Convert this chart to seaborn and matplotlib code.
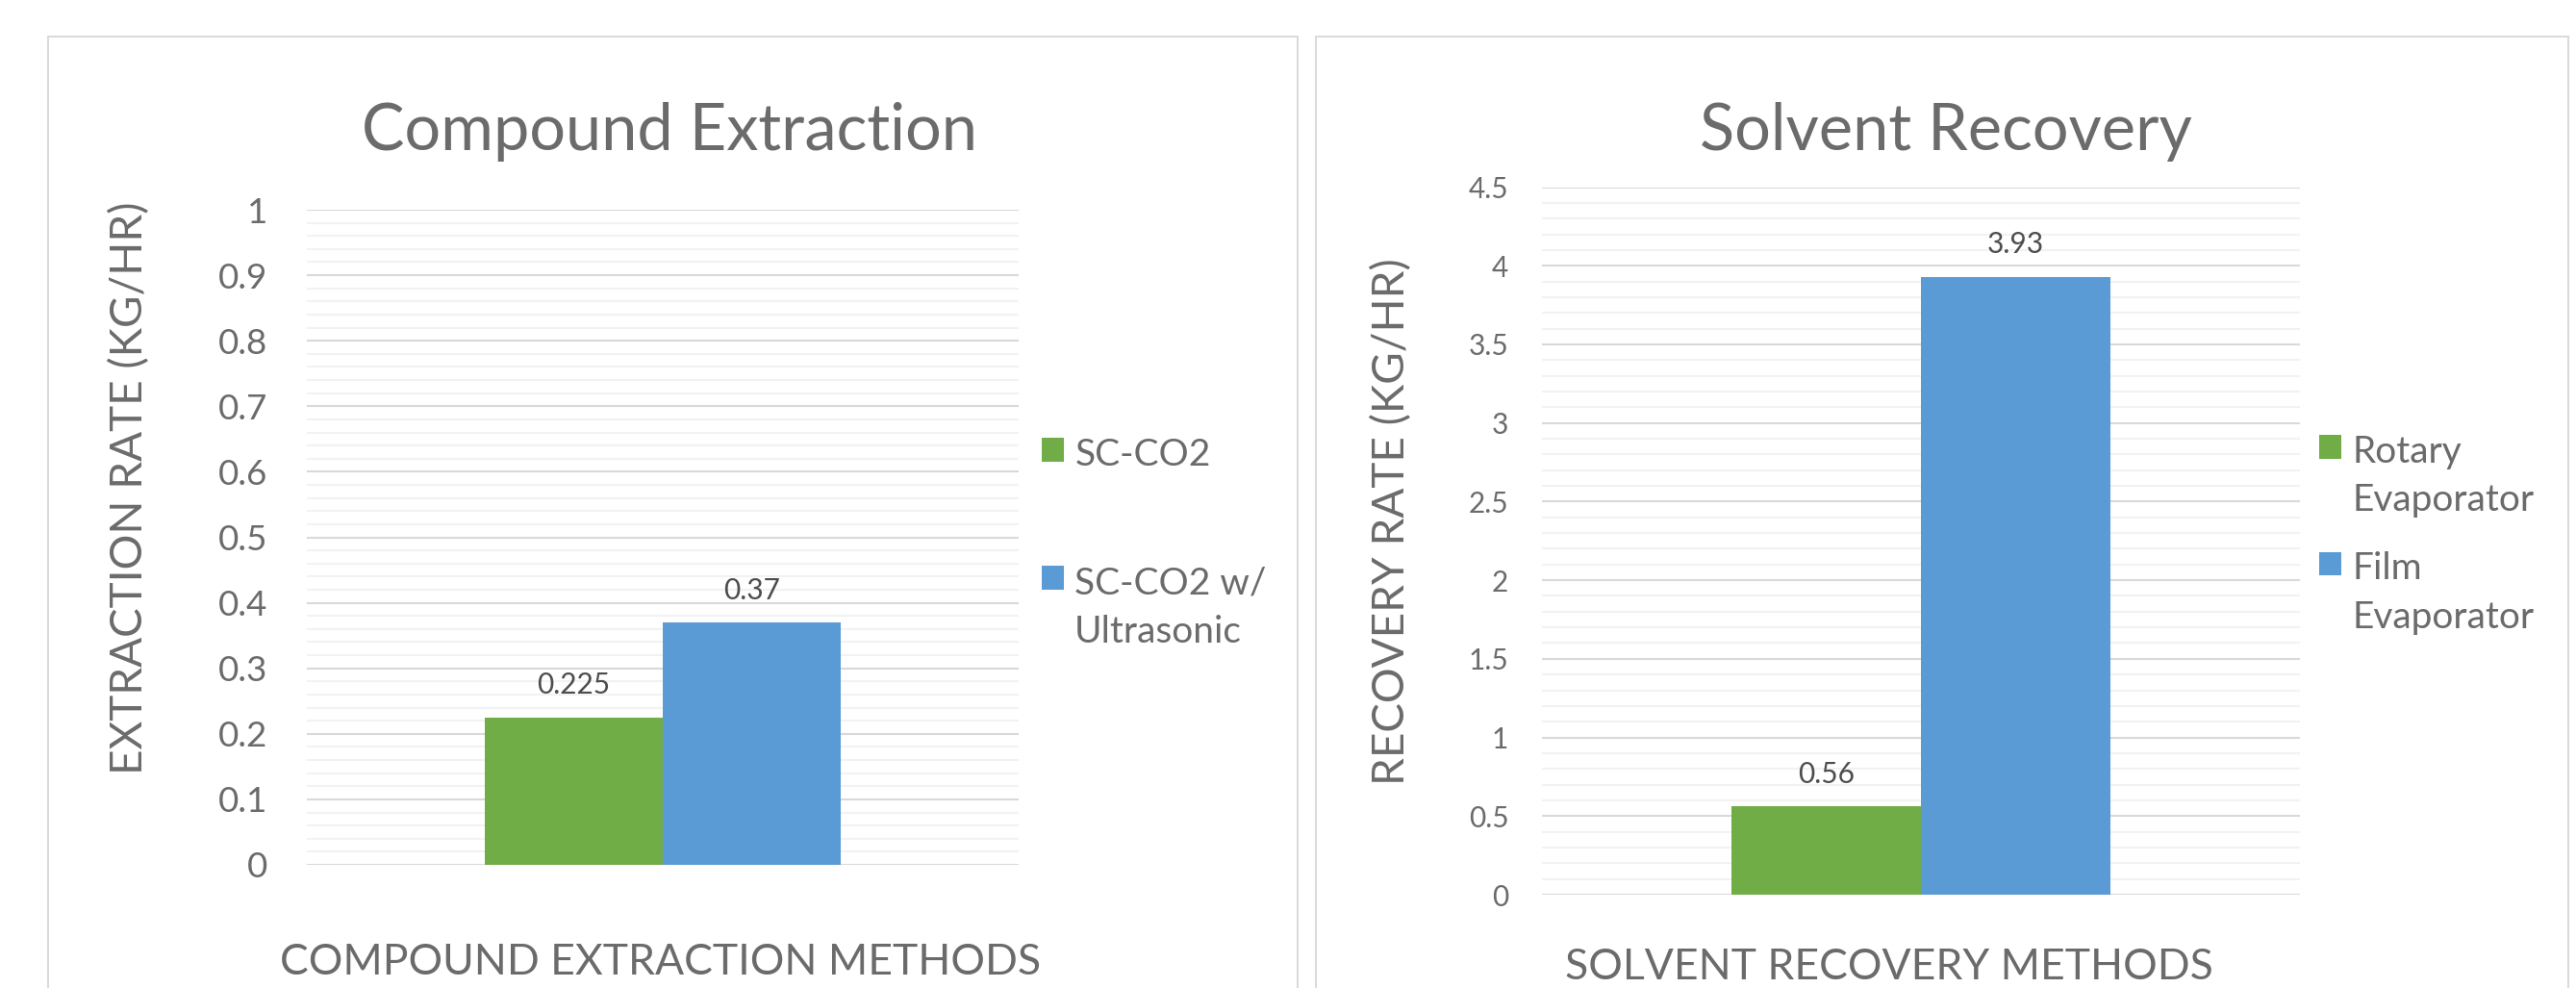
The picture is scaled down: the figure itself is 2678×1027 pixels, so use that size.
import matplotlib
matplotlib.use("Agg")
import matplotlib.pyplot as plt
from matplotlib.patches import Rectangle
from matplotlib.ticker import MultipleLocator, FuncFormatter
import seaborn as sns
import pandas as pd

# ---- data -------------------------------------------------------------
extraction_methods = ["SC-CO2", "SC-CO2 w/\nUltrasonic"]
extraction_rates = [0.225, 0.37]

recovery_methods = ["Rotary\nEvaporator", "Film\nEvaporator"]
recovery_rates = [0.56, 3.93]

bar_colors = ["#70AD47", "#5B9BD5"]

# ---- style ------------------------------------------------------------
sns.set_theme(style="white")
plt.rcParams["font.family"] = ["Lato", "DejaVu Sans"]

TEXT = "#6B6B6B"
LABEL = "#4D4D4D"
MAJOR = "#D9D9D9"
MINOR = "#F2F2F2"

W, H = 2678, 1027
fig = plt.figure(figsize=(W / 100, H / 100), dpi=100)
fig.patch.set_facecolor("white")


def px_rect(x0, y0, x1, y1):
    """Figure-fraction box from pixel edges (y measured from the top)."""
    return [x0 / W, 1 - y1 / H, (x1 - x0) / W, (y1 - y0) / H]


# chart-area frames
for x0, x1 in [(50, 1349), (1368, 2670)]:
    fig.add_artist(Rectangle((x0 / W, -0.1), (x1 - x0) / W, 1.1 - 38 / H,
                             transform=fig.transFigure, fill=False,
                             edgecolor="#D9D9D9", linewidth=1.4, zorder=0))


def draw_panel(rect, methods, rates, ymax, major, minor, tick_size, tick_pad,
               title, title_x, ylabel, ylabel_xy, xlabel, xlabel_xy,
               legend_xy, label_spacing):
    ax = fig.add_axes(rect)
    df = pd.DataFrame({"group": [""] * len(methods),
                       "method": methods, "rate": rates})
    sns.barplot(data=df, x="group", y="rate", hue="method",
                hue_order=methods, palette=bar_colors, width=0.5, gap=0,
                saturation=1, linewidth=0, edgecolor="none", ax=ax, zorder=3)
    ax.set_xlim(-0.5, 0.5)
    ax.set_ylim(0, ymax)
    ax.set_xticks([])

    ax.yaxis.set_major_locator(MultipleLocator(major))
    ax.yaxis.set_minor_locator(MultipleLocator(minor))
    ax.yaxis.set_major_formatter(FuncFormatter(lambda v, _: f"{v:g}"))
    ax.tick_params(axis="y", which="both", length=0, pad=tick_pad,
                   labelsize=tick_size, labelcolor=TEXT)
    ax.grid(axis="y", which="major", color=MAJOR, linewidth=1.5, zorder=0)
    ax.grid(axis="y", which="minor", color=MINOR, linewidth=1.5, zorder=0)
    ax.grid(axis="x", visible=False)
    ax.set_axisbelow(True)
    for s in ax.spines.values():
        s.set_visible(False)

    # value labels above the bars
    for cont in ax.containers:
        ax.bar_label(cont, labels=[f"{v:g}" for v in cont.datavalues],
                     padding=14, fontsize=21.5, color=LABEL)

    ax.set_ylabel(ylabel, fontsize=33, color=TEXT)
    ax.yaxis.set_label_coords(*ylabel_xy)
    ax.yaxis.label.set_verticalalignment("center")
    ax.set_xlabel(xlabel, fontsize=32, color=TEXT)
    ax.xaxis.set_label_coords(*xlabel_xy)
    ax.xaxis.label.set_verticalalignment("baseline")

    fig.text(title_x / W, 1 - 156 / H, title, fontsize=48, color=TEXT,
             ha="center", va="baseline")

    sns.move_legend(ax, loc="upper left",
                    bbox_to_anchor=(legend_xy[0] / W, 1 - legend_xy[1] / H),
                    bbox_transform=fig.transFigure, frameon=False, title=None,
                    fontsize=28, handlelength=0.6, handleheight=0.6,
                    handletextpad=0.28, labelspacing=label_spacing,
                    borderpad=0, borderaxespad=0)
    leg = ax.get_legend()
    for t in leg.get_texts():
        t.set_color(TEXT)
        t.set_linespacing(1.5)
    # keep each swatch level with the first line of its label
    for col in leg._legend_handle_box.get_children():
        for item in col.get_children():
            item.align = "top"
    return ax


draw_panel(px_rect(319, 218, 1059, 899), extraction_methods, extraction_rates,
           1.0, 0.1, 0.02, 26.5, 29.5,
           "Compound Extraction", 696,
           "EXTRACTION RATE (KG/HR)", (-0.2486, 0.5756),
           "COMPOUND EXTRACTION METHODS", (0.497, -0.1674),
           (1083, 455), 2.5)

draw_panel(px_rect(1603, 194.5, 2391, 930), recovery_methods, recovery_rates,
           4.5, 0.5, 0.1, 21.5, 25,
           "Solvent Recovery", 2023,
           "RECOVERY RATE (KG/HR)", (-0.198, 0.5275),
           "SOLVENT RECOVERY METHODS", (0.458, -0.1195),
           (2411, 452), 0.9)

fig.savefig("out.png", dpi=100, facecolor="white")
